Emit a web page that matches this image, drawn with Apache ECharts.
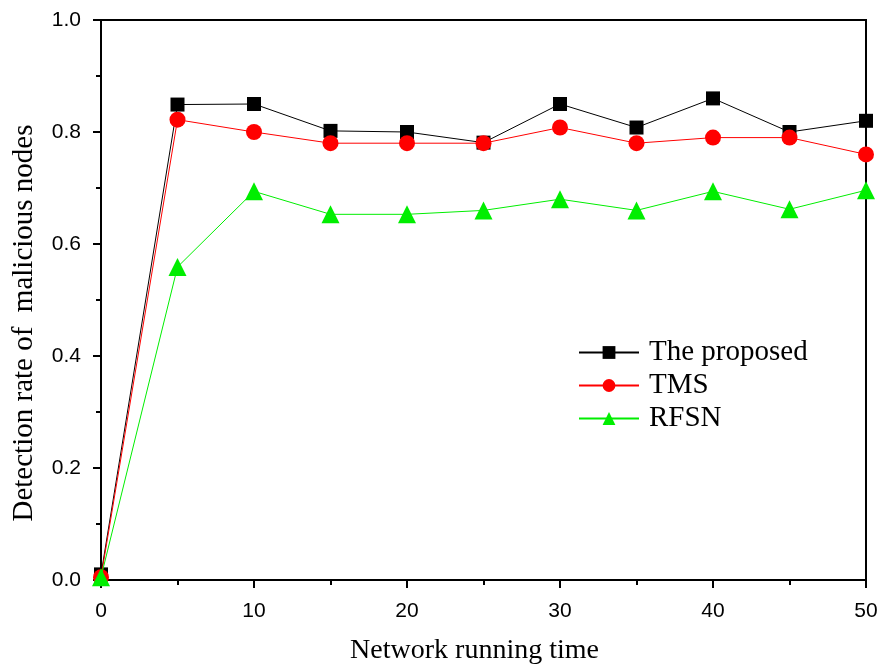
<!DOCTYPE html>
<html><head><meta charset="utf-8">
<script src="https://cdn.jsdelivr.net/npm/echarts@6/dist/echarts.min.js"></script>
<style>html,body{margin:0;padding:0;background:#fff}#c{width:884px;height:670px}</style>
</head><body><div id="c"></div>
<script>
const xValues = [0, 5, 10, 15, 20, 25, 30, 35, 40, 45, 50];
const proposed = [0.01, 0.849, 0.85, 0.802, 0.80, 0.781, 0.85, 0.808, 0.86, 0.80, 0.82];
const tms = [0.005, 0.822, 0.80, 0.78, 0.78, 0.78, 0.808, 0.78, 0.79, 0.79, 0.76];
const rfsn = [0.005, 0.559, 0.694, 0.653, 0.653, 0.66, 0.68, 0.66, 0.694, 0.662, 0.696];
const seriesNames = ['The proposed', 'TMS', 'RFSN'];

const pair = arr => xValues.map((x, i) => [x, arr[i]]);
const chart = echarts.init(document.getElementById('c'));
const serif = '"Liberation Serif", "Times New Roman", serif';
const sans = '"Liberation Sans", Arial, sans-serif';
chart.setOption({
  animation: false,
  grid: {left: 101, right: 18, top: 20, bottom: 88, show: true, borderColor: '#000', borderWidth: 2, backgroundColor: 'transparent'},
  legend: {
    left: 578, top: 338, padding: 0, orient: 'vertical', itemWidth: 60, itemHeight: 16, itemGap: 4,
    textStyle: {fontFamily: serif, fontSize: 29, color: '#000', padding: [0, 0, 0, 5]},
    data: seriesNames
  },
  xAxis: {
    type: 'value', min: 0, max: 50, interval: 10,
    name: 'Network running time', nameLocation: 'middle', nameGap: 57,
    nameTextStyle: {fontFamily: serif, fontSize: 28, color: '#000', padding: [0, 18, 0, 0]},
    axisLine: {lineStyle: {color: '#000', width: 2}},
    axisTick: {length: 8, lineStyle: {width: 2, color: '#000'}},
    minorTick: {show: true, splitNumber: 2, length: 5, lineStyle: {width: 2, color: '#000'}},
    axisLabel: {fontFamily: sans, fontSize: 21, color: '#000', margin: 21},
    splitLine: {show: false}
  },
  yAxis: {
    type: 'value', min: 0, max: 1.0, interval: 0.2,
    name: 'Detection rate of  malicious nodes', nameLocation: 'middle', nameGap: 62,
    nameTextStyle: {fontFamily: serif, fontSize: 29, color: '#000', padding: [0, 46, 0, 0]},
    axisLine: {show: true, lineStyle: {color: '#000', width: 2}},
    axisTick: {show: true, length: 8, lineStyle: {width: 2, color: '#000'}},
    minorTick: {show: true, splitNumber: 2, length: 5, lineStyle: {width: 2, color: '#000'}},
    axisLabel: {fontFamily: sans, fontSize: 21, color: '#000', margin: 20, formatter: v => v.toFixed(1)},
    splitLine: {show: false}
  },
  series: [
    {name: seriesNames[0], type: 'line', data: pair(proposed), symbol: 'rect', symbolSize: 14,
     itemStyle: {color: '#000'}, lineStyle: {color: '#000', width: 1}, z: 3},
    {name: seriesNames[1], type: 'line', data: pair(tms), symbol: 'circle', symbolSize: 16,
     itemStyle: {color: '#ff0000'}, lineStyle: {color: '#ff0000', width: 1}, z: 4},
    {name: seriesNames[2], type: 'line', data: pair(rfsn), symbol: 'triangle', symbolSize: 18,
     itemStyle: {color: '#00ee00'}, lineStyle: {color: '#00ee00', width: 1}, z: 5}
  ]
});
</script></body></html>
